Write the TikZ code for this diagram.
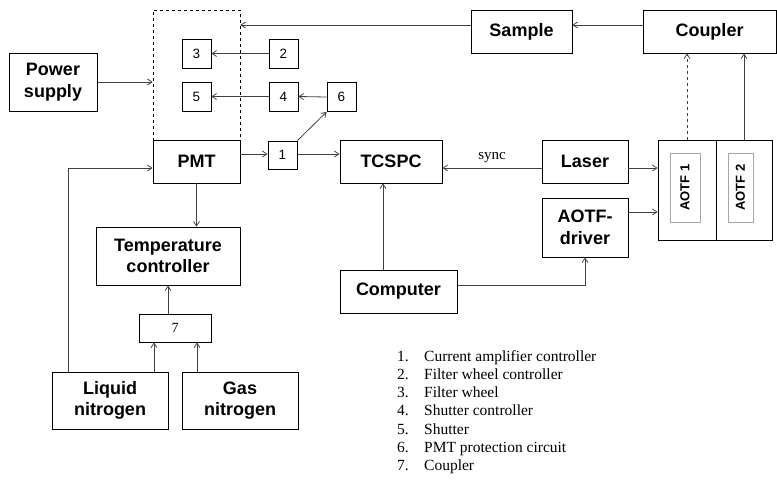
\documentclass[tikz,border=0pt]{standalone}
\usepackage{fontspec}
\setmainfont{Liberation Serif}
\setsansfont{Liberation Sans}
\usetikzlibrary{arrows.meta}
\definecolor{ln}{HTML}{404040}
\tikzset{
  box/.style={draw=black, line width=0.8pt, rectangle, inner sep=0pt, align=center,
    font=\sffamily\bfseries\fontsize{18}{21.5}\selectfont},
  sbox/.style={draw=black, line width=0.8pt, rectangle, inner sep=0pt,
    minimum width=29pt, minimum height=29pt, font=\sffamily\fontsize{13.5}{15}\selectfont},
  arr/.style={draw=ln, line width=0.8pt, -{Straight Barb[length=4.5pt,width=6pt]}},
  leg/.style={anchor=base west, inner sep=0pt, font=\fontsize{15.5}{17}\selectfont},
  inbox/.style={draw=gray!70, line width=0.9pt, minimum height=69pt, inner sep=0pt,
    font=\sffamily\bfseries\fontsize{13}{15}\selectfont},
}
\begin{document}
\begin{tikzpicture}[x=1pt,y=-1pt]
\useasboundingbox (0,0) rectangle (777,480);
% boxes
\node[draw=black, dashed, line width=0.7pt, minimum width=87pt, minimum height=130pt, inner sep=0pt] (dbox) at (196.5,75) {};
\node[sbox] (b3) at (196.5,53.5) {3};
\node[sbox] (b2) at (283.5,53.5) {2};
\node[sbox] (b5) at (196.5,96.5) {5};
\node[sbox] (b4) at (283.5,96.5) {4};
\node[sbox] (b6) at (341.5,97) {6};
\node[sbox, minimum height=28pt] (b1) at (282.5,155) {1};
\node[box, minimum width=88pt, minimum height=58pt] (ps) at (53,82) {Power\\supply};
\node[box, fill=white, minimum width=87pt, minimum height=43pt] (pmt) at (196.5,161.5) {PMT};
\node[box, minimum width=102pt, minimum height=43pt] (tcspc) at (391,161.5) {TCSPC};
\node[box, minimum width=101pt, minimum height=43pt] (sample) at (521.5,31.5) {Sample};
\node[box, minimum width=133pt, minimum height=43pt] (coupler) at (709.5,31.5) {Coupler};
\node[box, minimum width=86pt, minimum height=43pt] (laser) at (585,161.5) {Laser};
\node[box, minimum width=86pt, minimum height=59pt] (driver) at (585,227.5) {AOTF-\\driver};
\node[box, minimum width=58pt, minimum height=100pt] (aotfA) at (687,190) {};
\node[box, minimum width=56pt, minimum height=100pt] (aotfB) at (744,190) {};
\node[inbox, minimum width=30pt] (in1) at (685,187.5) {\rotatebox{90}{AOTF 1}};
\node[inbox, minimum width=25pt] (in2) at (740.5,187.5) {\rotatebox{90}{AOTF 2}};
\node[box, minimum width=117pt, minimum height=43pt] (computer) at (398.5,291.5) {Computer};
\node[box, minimum width=144pt, minimum height=58pt] (tc) at (168,256) {Temperature\\controller};
\node[draw=black, line width=0.8pt, minimum width=72pt, minimum height=28pt, inner sep=0pt,
  font=\fontsize{14}{16}\selectfont] (b7) at (175,328) {7};
\node[box, minimum width=116pt, minimum height=57pt] (lnit) at (110,400.5) {Liquid\\nitrogen};
\node[box, minimum width=116pt, minimum height=57pt] (gnit) at (240,400.5) {Gas\\nitrogen};
% connectors
\draw[arr] (coupler.west |- 0,25) -- (sample.east |- 0,25);
\draw[arr] (sample.west |- 0,25) -- (dbox.east |- 0,25);
\draw[arr] (ps.east) -- (dbox.west |- ps.east);
\draw[arr] (b2.west) -- (b3.east);
\draw[arr] (b4.west) -- (b5.east);
\draw[arr] (b6.west) -- (b4.east);
\draw[arr] (pmt.east |- 0,154) -- (b1.west |- 0,154);
\draw[arr] (b1.east |- 0,154) -- (tcspc.west |- 0,154);
\draw[arr] (b1.north east) -- (b6.south west);
\draw[arr] (laser.west |- 0,168) -- node[above=2pt, font=\fontsize{15}{17}\selectfont, pos=0.5] {sync} (tcspc.east |- 0,168);
\draw[arr] (laser.east |- 0,168) -- (aotfA.west |- 0,168);
\draw[arr] (driver.east |- 0,212) -- (aotfA.west |- 0,212);
\draw[arr, dashed] (aotfA.north) -- (coupler.south -| aotfA.north);
\draw[arr] (aotfB.north) -- (coupler.south -| aotfB.north);
\draw[arr] (computer.east |- 0,285) -| (driver.south);
\draw[arr] (computer.north -| 383,0) -- (tcspc.south -| 383,0);
\draw[arr] (pmt.south) -- (tc.north -| pmt.south);
\draw[arr] (b7.north -| tc.south) -- (tc.south);
\draw[arr] (lnit.north -| 154,0) -- (b7.south -| 154,0);
\draw[arr] (gnit.north -| 197,0) -- (b7.south -| 197,0);
\draw[arr] (lnit.north -| 68,0) |- (pmt.west |- 0,168);
% legend
\foreach \n/\t [count=\i from 0] in {1./Current amplifier controller, 2./Filter wheel controller, 3./Filter wheel, 4./Shutter controller, 5./Shutter, 6./PMT protection circuit, 7./Coupler}{
  \node[leg] (ln\i) at (397,361+18.3*\i) {\n};
  \node[leg] (lt\i) at (424,361+18.3*\i) {\t};
}
\end{tikzpicture}
\end{document}
